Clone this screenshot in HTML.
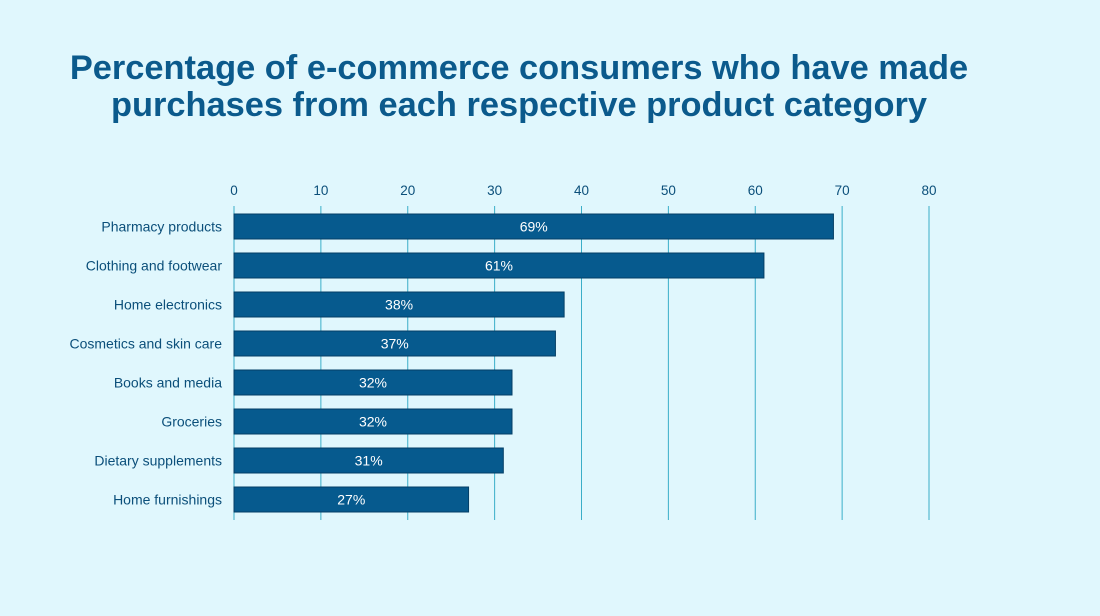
<!DOCTYPE html>
<html><head><meta charset="utf-8"><style>
html,body{margin:0;padding:0;background:#e0f7fd;}
body{width:1100px;height:616px;position:relative;overflow:hidden;font-family:"Liberation Sans",sans-serif;}
#title{position:absolute;left:0;top:50px;width:1038px;text-align:center;color:#0b5a8c;font-weight:bold;font-size:34.4px;line-height:37px;white-space:nowrap;}
svg{position:absolute;left:0;top:0;}
</style></head><body>
<div id="title">Percentage of e-commerce consumers who have made<br>purchases from each respective product category</div>
<svg id="chart" width="1100" height="616"></svg>
<script>
const categories=["Pharmacy products","Clothing and footwear","Home electronics","Cosmetics and skin care","Books and media","Groceries","Dietary supplements","Home furnishings"];
const values=[69,61,38,37,32,32,31,27];
const ticks=[0,10,20,30,40,50,60,70,80];
const svg=document.getElementById('chart');
const NS='http://www.w3.org/2000/svg';
const x0=234,x1=929,vmax=80;
const xs=v=>x0+(x1-x0)*v/vmax;
const rowTop=207,rowH=39,barH=25;
const ys=i=>rowTop+i*rowH+7;
function mk(t,a){const e=document.createElementNS(NS,t);for(const k in a)e.setAttribute(k,a[k]);svg.appendChild(e);return e;}
ticks.forEach(t=>{
  const l=mk('line',{x1:xs(t),x2:xs(t),y1:206,y2:520,stroke:'#3aaec8','stroke-width':1});
  
  
  const tx=mk('text',{x:xs(t),y:195,'text-anchor':'middle','font-size':13.5,fill:'#0b4f7a'});
  tx.textContent=t;
  
  
});
categories.forEach((c,i)=>{
  const y=ys(i);
  const r=mk('rect',{x:xs(0),y:y,width:xs(values[i])-xs(0),height:barH,fill:'#065a8e',stroke:'#043f66','stroke-width':1});
  
  
  const lb=mk('text',{x:222,y:y+barH/2+5,'text-anchor':'end','font-size':14,fill:'#0b4f7a'});
  lb.textContent=c;
  
  
  const vl=mk('text',{x:(xs(0)+xs(values[i]))/2,y:y+barH/2+5,'text-anchor':'middle','font-size':14,fill:'#ffffff'});
  vl.textContent=values[i]+'%';
  
  
});
</script>
</body></html>
